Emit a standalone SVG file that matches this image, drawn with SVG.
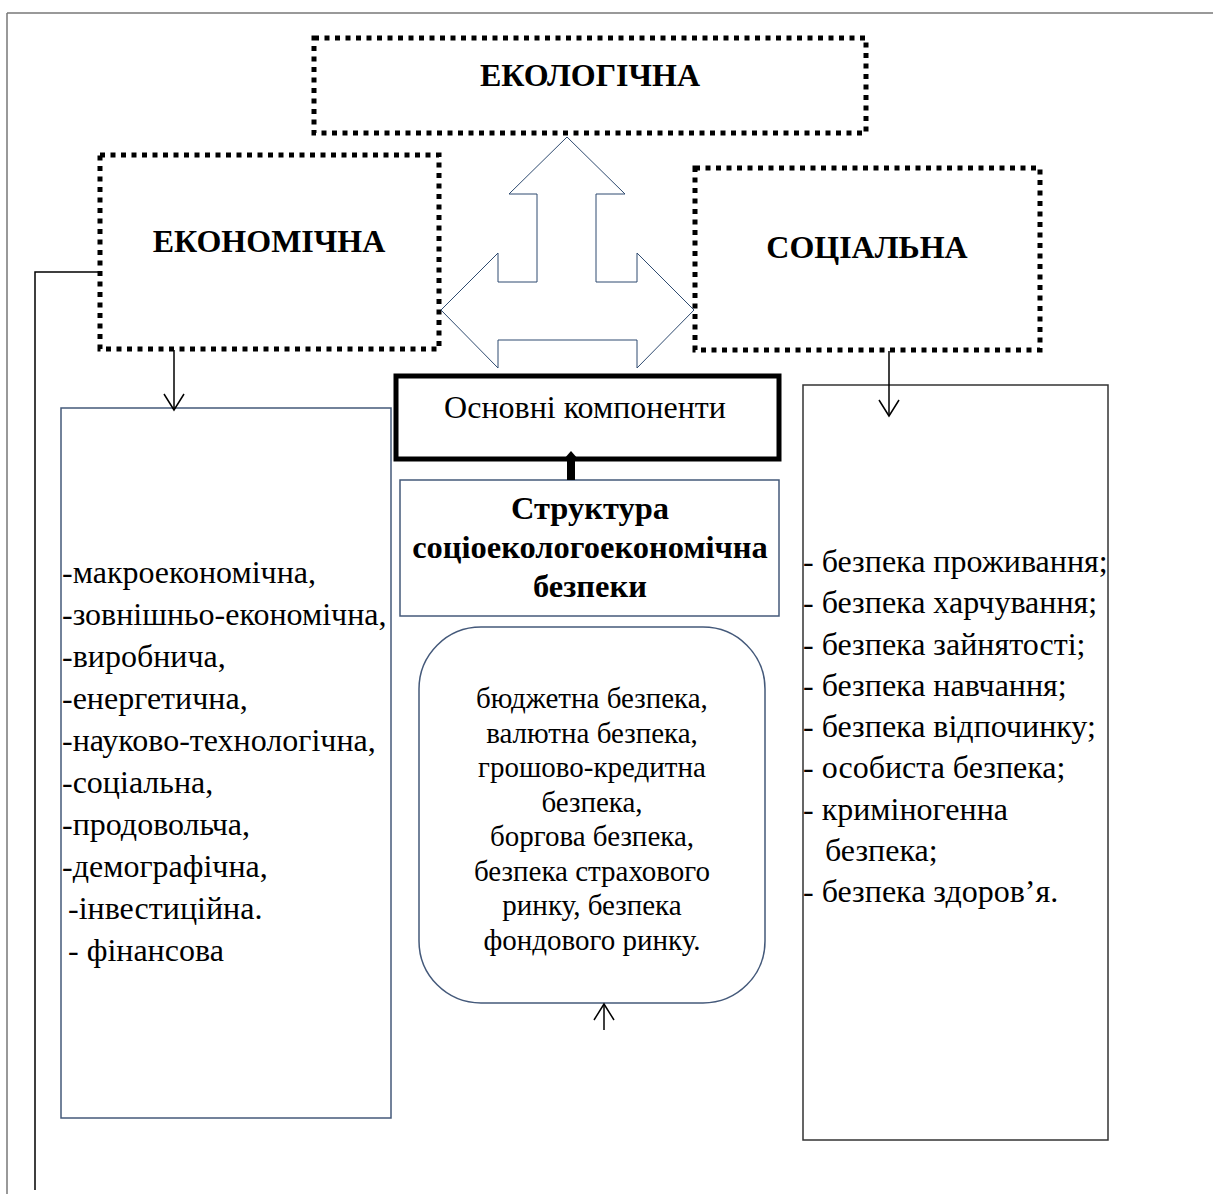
<svg xmlns="http://www.w3.org/2000/svg" width="1213" height="1194" viewBox="0 0 1213 1194">
<style>
.dot{fill:none;stroke:#000;stroke-width:5;stroke-dasharray:5 5.5}
.hd{font-family:"Liberation Serif","Times New Roman",serif;font-weight:bold;font-size:32px;text-anchor:middle;fill:#000}
.tx{font-family:"Liberation Serif","Times New Roman",serif;font-size:32px;fill:#000}
.cx{text-anchor:middle}
.bl{fill:#fff;stroke:#44597a;stroke-width:1.5}
.con{fill:none;stroke:#000;stroke-width:1.5}
</style>
<defs>
<marker id="v" viewBox="0 0 20 24" refX="18" refY="12" markerWidth="20" markerHeight="24" markerUnits="userSpaceOnUse" orient="auto">
<path d="M2,2 L18,12 L2,22" fill="none" stroke="#000" stroke-width="1.5"/>
</marker>
</defs>
<rect width="1213" height="1194" fill="#fff"/>
<g id="frame" fill="none" stroke="#777" stroke-width="1.5">
<line x1="7" y1="13" x2="1213" y2="13"/>
<line x1="7" y1="13" x2="7" y2="1194"/>
</g>
<g id="ecological">
<rect class="dot" x="314" y="38" width="552" height="95"/>
<text class="hd" x="590" y="86">ЕКОЛОГІЧНА</text>
</g>
<g id="economic">
<rect class="dot" x="100" y="155" width="339" height="194"/>
<text class="hd" x="269" y="252">ЕКОНОМІЧНА</text>
</g>
<g id="social">
<rect class="dot" x="695" y="168" width="345" height="182"/>
<text class="hd" x="867" y="258">СОЦІАЛЬНА</text>
</g>
<g id="main-components">
<rect x="396" y="376" width="383" height="83" fill="#fff" stroke="#000" stroke-width="5"/>
<text class="tx cx" x="585" y="418">Основні компоненти</text>
</g>
<g id="structure">
<rect class="bl" x="400" y="480" width="379" height="136"/>
<g class="hd" style="font-size:32.5px">
<text x="590" y="519">Структура</text>
<text x="590" y="558">соціоекологоекономічна</text>
<text x="590" y="597">безпеки</text>
</g>
</g>
<g id="financial">
<rect class="bl" x="419" y="627" width="346" height="376" rx="62"/>
<g class="tx cx" style="font-size:29px">
<text x="592" y="708">бюджетна безпека,</text>
<text x="592" y="743">валютна безпека,</text>
<text x="592" y="777">грошово-кредитна</text>
<text x="592" y="812">безпека,</text>
<text x="592" y="846">боргова безпека,</text>
<text x="592" y="881">безпека страхового</text>
<text x="592" y="915">ринку, безпека</text>
<text x="592" y="950">фондового ринку.</text>
</g>
</g>
<g id="economic-list">
<rect class="bl" x="61" y="408" width="330" height="710"/>
<g class="tx">
<text x="62" y="583">-макроекономічна,</text>
<text x="62" y="625">-зовнішньо-економічна,</text>
<text x="62" y="667">-виробнича,</text>
<text x="62" y="709">-енергетична,</text>
<text x="62" y="751">-науково-технологічна,</text>
<text x="62" y="793">-соціальна,</text>
<text x="62" y="835">-продовольча,</text>
<text x="62" y="877">-демографічна,</text>
<text x="68" y="919">-інвестиційна.</text>
<text x="68" y="961">- фінансова</text>
</g>
</g>
<g id="social-list">
<rect x="803" y="385" width="305" height="755" fill="#fff" stroke="#333" stroke-width="1.5"/>
<g class="tx">
<text x="803" y="572">- безпека проживання;</text>
<text x="803" y="613">- безпека харчування;</text>
<text x="803" y="655">- безпека зайнятості;</text>
<text x="803" y="696">- безпека навчання;</text>
<text x="803" y="737">- безпека відпочинку;</text>
<text x="803" y="778">- особиста безпека;</text>
<text x="803" y="820">- криміногенна</text>
<text x="825" y="861">безпека;</text>
<text x="803" y="902">- безпека здоров’я.</text>
</g>
</g>
<g id="connectors">
<polyline class="con" points="100,272 35,272 35,1190"/>
<line class="con" x1="174" y1="350" x2="174" y2="410" marker-end="url(#v)"/>
<line class="con" x1="889" y1="351" x2="889" y2="416" marker-end="url(#v)"/>
<line class="con" x1="604" y1="1030" x2="604" y2="1004" marker-end="url(#v)"/>
<path d="M567,480 L567,459 L564,459 L571,451 L578,459 L575,459 L575,480 Z" fill="#000"/>
<polygon points="567,137 625,194 596,194 596,282 637,282 637,253 694,310 637,368 637,340 498,340 498,368 441,310 498,253 498,282 537,282 537,194 509,194" fill="#fff" stroke="#2f4b70" stroke-width="1"/>
</g>
</svg>
